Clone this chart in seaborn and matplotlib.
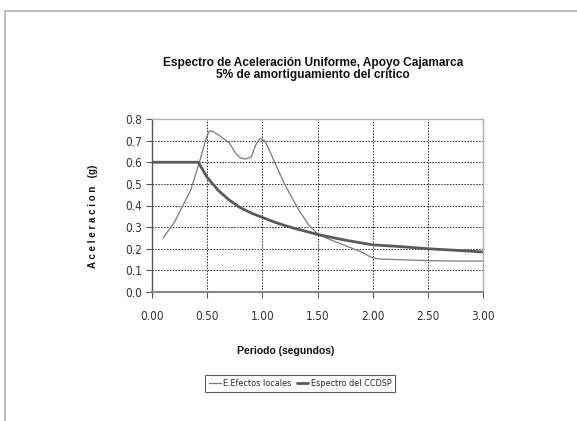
import matplotlib
matplotlib.use("Agg")
import matplotlib.pyplot as plt
import matplotlib.font_manager as fm
import seaborn as sns
import pandas as pd
from matplotlib.ticker import FormatStrFormatter, MultipleLocator
from matplotlib.patches import Rectangle

# Data
local_T = [0.10, 0.20, 0.27, 0.35, 0.43, 0.49, 0.52, 0.56, 0.62, 0.70, 0.76, 0.80, 0.85, 0.90, 0.94, 0.98, 1.02, 1.06, 1.12, 1.21, 1.33, 1.42, 1.50, 1.60, 1.70, 1.80, 1.90, 1.98, 2.05, 2.20, 2.50, 2.75, 3.00]
local_A = [0.25, 0.32, 0.39, 0.47, 0.60, 0.71, 0.745, 0.74, 0.72, 0.69, 0.64, 0.62, 0.615, 0.625, 0.68, 0.71, 0.70, 0.66, 0.59, 0.49, 0.38, 0.31, 0.27, 0.245, 0.225, 0.205, 0.185, 0.162, 0.153, 0.150, 0.145, 0.143, 0.143]

ccdsp_T = [0.00, 0.20, 0.42, 0.50, 0.60, 0.70, 0.80, 0.90, 1.00, 1.10, 1.20, 1.30, 1.40, 1.50, 1.75, 2.00, 2.25, 2.50, 2.75, 3.00]
ccdsp_A = [0.60, 0.60, 0.60, 0.53, 0.47, 0.425, 0.39, 0.365, 0.345, 0.325, 0.308, 0.293, 0.28, 0.266, 0.24, 0.218, 0.21, 0.20, 0.193, 0.185]

title = "Espectro de Aceleración Uniforme, Apoyo Cajamarca\n5% de amortiguamiento del crítico"
xlabel = "Periodo (segundos)"
ylabel = "A c e l e r a c i o n   (g)"
labels = ["E.Efectos locales", "Espectro del CCDSP"]

sns.set_theme(style="white")
plt.rcParams['font.family'] = ['Liberation Sans', 'DejaVu Sans']

names = {f.name for f in fm.fontManager.ttflist}
if "Liberation Sans Narrow" in names:
    narrow = fm.FontProperties(family="Liberation Sans Narrow")
else:
    narrow = fm.FontProperties(family="DejaVu Sans", stretch="condensed")

fig = plt.figure(figsize=(5.77, 4.21), dpi=100)
fig.patch.set_facecolor("white")
# chart-area border (visible on top and left)
fig.add_artist(Rectangle((5/577, -0.1), 1.2, 1 - 10.5/421 + 0.1, transform=fig.transFigure,
                         fill=False, edgecolor="#bdbdbd", linewidth=1.5))

ax = fig.add_axes([152/577, 1 - 292/421, (483 - 152)/577, (292 - 119)/421])

df1 = pd.DataFrame({"T": local_T, "A": local_A})
df2 = pd.DataFrame({"T": ccdsp_T, "A": ccdsp_A})
sns.lineplot(data=df1, x="T", y="A", ax=ax, color="#7a7a7a", linewidth=0.9, label=labels[0])
sns.lineplot(data=df2, x="T", y="A", ax=ax, color="#5a5a5a", linewidth=2.0, label=labels[1])

ax.set_xlim(0, 3)
ax.set_ylim(0, 0.8)
ax.xaxis.set_major_locator(MultipleLocator(0.5))
ax.yaxis.set_major_locator(MultipleLocator(0.1))
ax.xaxis.set_major_formatter(FormatStrFormatter("%.2f"))
ax.yaxis.set_major_formatter(FormatStrFormatter("%.1f"))
ax.grid(True, color="#222222", linestyle=(0, (1.5, 1.5)), linewidth=0.7)
ax.set_axisbelow(True)

for s in ["top", "right"]:
    ax.spines[s].set_color("#b0b0b0")
    ax.spines[s].set_linewidth(1.0)
ax.spines["left"].set_color("#555555")
ax.spines["left"].set_linewidth(1.0)
ax.spines["bottom"].set_color("#888888")
ax.spines["bottom"].set_linewidth(1.5)

ax.tick_params(axis="both", which="major", direction="out", length=4, width=0.8,
               color="#555555", labelcolor="#333333", bottom=True, left=True)
ax.tick_params(axis="x", pad=9)
ax.tick_params(axis="y", pad=3)
for lab in ax.get_xticklabels() + ax.get_yticklabels():
    lab.set_fontproperties(narrow)
    lab.set_fontsize(8.5)

ax.set_xlabel("")
ax.set_ylabel("")
fig.text(93/577, 1 - 216/421, ylabel, ha="center", va="center", rotation=90, fontsize=7,
         fontweight="bold", color="#111111")
fig.text(286/577, 1 - 351/421, xlabel, ha="center", va="center", fontsize=7.5,
         fontweight="bold", color="#111111")
fig.text(313/577, 1 - 69/421, title, ha="center", va="center", fontsize=8.6,
         fontweight="bold", color="#111111", linespacing=0.95)

leg = ax.legend(loc="center", bbox_to_anchor=(300/577, 1 - 383.5/421), bbox_transform=fig.transFigure,
                ncol=2, frameon=True, fancybox=False, handlelength=1.3,
                handletextpad=0.25, columnspacing=0.6, borderpad=0.4,
                prop=fm.FontProperties(family=narrow.get_family(), stretch=narrow.get_stretch(), size=6.5))
leg.get_frame().set_edgecolor("#333333")
leg.get_frame().set_linewidth(0.8)

fig.savefig("out.png", dpi=100, facecolor="white")
